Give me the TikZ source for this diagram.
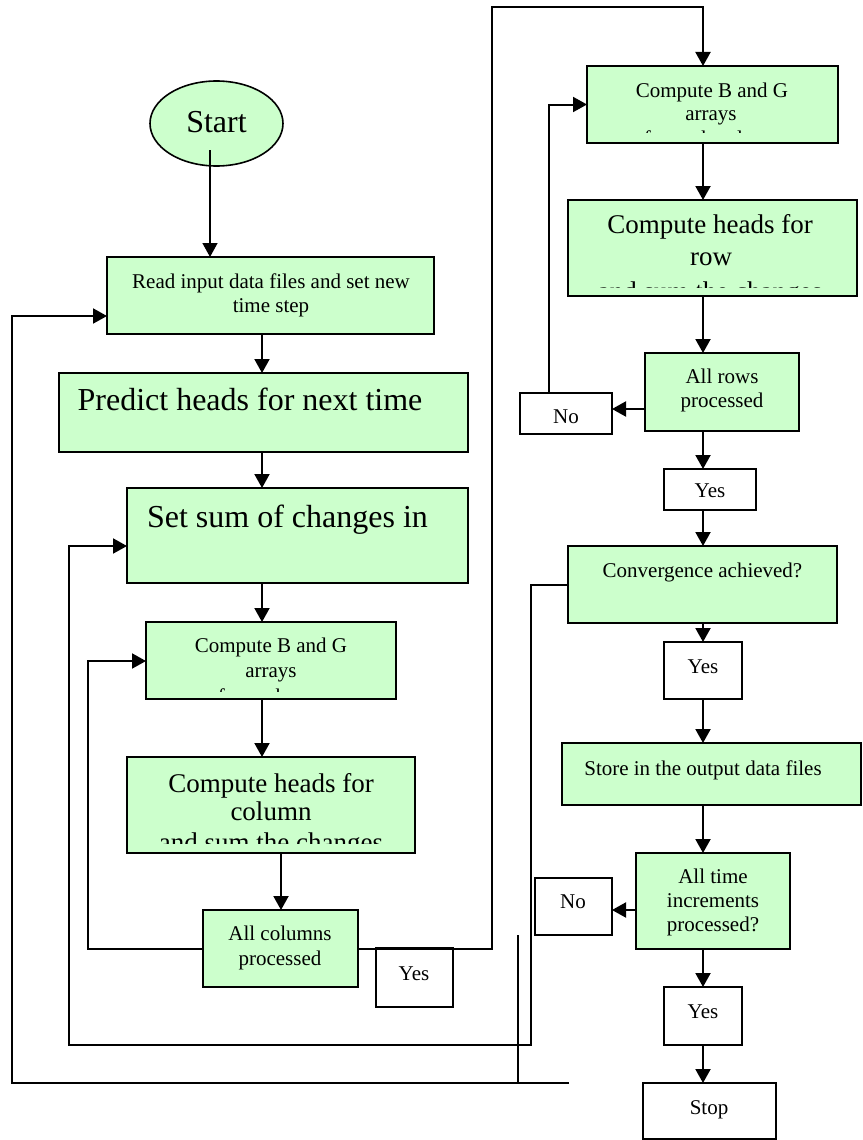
\documentclass[tikz,border=0pt]{standalone}
\usepackage{fontspec}
\setmainfont{Liberation Serif}
\usetikzlibrary{arrows.meta,shapes.geometric}
\definecolor{lg}{HTML}{CCFFCC}
\tikzset{
 box/.style={draw, line width=2.1pt, fill=lg, rectangle, inner sep=0pt, outer sep=0pt},
 wbox/.style={draw, line width=2.1pt, fill=white, rectangle, inner sep=0pt, outer sep=0pt},
 conn/.style={line width=2pt},
 arr/.style={line width=2pt, -{Triangle[length=14pt,width=15pt]}},
 big/.style={font=\fontsize{32}{36}\selectfont},
 mid/.style={font=\fontsize{27}{30}\selectfont},
 sml/.style={font=\fontsize{21}{24}\selectfont},
 lbl/.style={anchor=base, inner sep=0pt, outer sep=0pt},
}
\newcommand\bx[6]{\node[#6, minimum width={(#4-#2)*1pt}, minimum height={(#5-#3)*1pt}] (#1) at ({(#2+#4)/2},{(#3+#5)/2}) {};}
\newcommand\tx[5]{\node[lbl,#2] (#1) at (#3,#4) {#5};}
\begin{document}
\begin{tikzpicture}[x=1pt,y=-1pt]
\useasboundingbox (0,0) rectangle (862,1140);
\fill[white] (0,0) rectangle (862,1140);

% start
\node[ellipse, draw, line width=1.6pt, fill=lg, minimum width=133pt, minimum height=85pt, inner sep=0pt] (start) at (216.5,123.5) {};
\tx{tstart}{big}{216.5}{132}{Start}

% boxes
\bx{read}{107}{257}{434}{334}{box}
\bx{predict}{59}{373}{468}{452}{box}
\bx{setsum}{127}{488}{468}{583}{box}
\bx{bgc}{146}{622}{396}{699}{box}
\bx{chc}{127}{757}{415}{853}{box}
\bx{acol}{203}{910}{358}{987}{box}
\bx{yesa}{376}{948}{453}{1007}{wbox}
\bx{bgr}{587}{66}{838}{143}{box}
\bx{chr}{568}{200}{857}{296}{box}
\bx{arow}{645}{353}{799}{431}{box}
\bx{noa}{520}{393}{612}{434}{wbox}
\bx{yesb}{664}{469}{756}{510}{wbox}
\bx{conv}{568}{546}{837}{623}{box}
\bx{yesc}{664}{642}{742}{699}{wbox}
\bx{store}{562}{743}{861}{805}{box}
\bx{atp}{636}{853}{790}{949}{box}
\bx{nob}{535}{878}{612}{935}{wbox}
\bx{yesd}{664}{987}{742}{1045}{wbox}
\bx{stop}{643}{1083}{776}{1139}{wbox}

% texts
\tx{tr1}{sml}{271}{288}{Read input data files and set new}
\tx{tr2}{sml}{271}{312}{time step}
\tx{tp}{big}{250}{410}{Predict heads for next time}
\tx{ts}{big}{287.5}{527}{Set sum of changes in}
\begin{scope}
\clip (147,623) rectangle (395,691);
\tx{tbc1}{sml}{271}{652}{Compute B and G}
\tx{tbc2}{sml}{271}{677}{arrays}
\tx{tbc3}{sml}{271}{703}{for each row}
\end{scope}
\begin{scope}
\clip (128,758) rectangle (414,843);
\tx{thc1}{mid}{271}{792}{Compute heads for}
\tx{thc2}{mid}{271}{820}{column}
\tx{thc3}{mid}{271}{851}{and sum the changes}
\end{scope}
\tx{tac1}{sml}{280}{940}{All columns}
\tx{tac2}{sml}{280}{965}{processed}
\tx{tya}{sml}{414}{980}{Yes}
\begin{scope}
\clip (588,67) rectangle (837,132);
\tx{tbr1}{sml}{712}{97}{Compute B and G}
\tx{tbr2}{sml}{711}{120}{arrays}
\tx{tbr3}{sml}{712}{145}{for each column}
\end{scope}
\begin{scope}
\clip (569,201) rectangle (856,287);
\tx{thr1}{mid}{710}{233}{Compute heads for}
\tx{thr2}{mid}{711}{265}{row}
\tx{thr3}{mid}{710}{300}{and sum the changes}
\end{scope}
\tx{tar1}{sml}{722}{383}{All rows}
\tx{tar2}{sml}{722}{407}{processed}
\tx{tna}{sml}{566}{423}{No}
\tx{tyb}{sml}{710}{497}{Yes}
\tx{tcv}{sml}{702.5}{577}{Convergence achieved?}
\tx{tyc}{sml}{703}{673}{Yes}
\tx{tst}{sml}{703}{775}{Store in the output data files}
\tx{tat1}{sml}{713}{883}{All time}
\tx{tat2}{sml}{713}{907}{increments}
\tx{tat3}{sml}{713}{931}{processed?}
\tx{tnb}{sml}{573}{908}{No}
\tx{tyd}{sml}{703}{1018}{Yes}
\tx{tsp}{sml}{709}{1114}{Stop}

% column coordinates
\coordinate (cL) at (262,0);
\coordinate (cLc) at (281,0);
\coordinate (cR) at (703,0);
\coordinate (s0) at (210,150);

% straight connectors
\draw[arr, line width=1.5pt] (s0) -- (s0 |- read.north);
\draw[arr] (read.south -| cL) -- (predict.north -| cL);
\draw[arr] (predict.south -| cL) -- (setsum.north -| cL);
\draw[arr] (setsum.south -| cL) -- (bgc.north -| cL);
\draw[arr] (bgc.south -| cL) -- (chc.north -| cL);
\draw[arr] (chc.south -| cLc) -- (acol.north -| cLc);
\draw[arr] (bgr.south -| cR) -- (chr.north -| cR);
\draw[arr] (chr.south -| cR) -- (arow.north -| cR);
\draw[arr] (arow.south -| cR) -- (yesb.north -| cR);
\draw[arr] (yesb.south -| cR) -- (conv.north -| cR);
\draw[arr] (conv.south -| cR) -- (yesc.north -| cR);
\draw[arr] (yesc.south -| cR) -- (store.north -| cR);
\draw[arr] (store.south -| cR) -- (atp.north -| cR);
\draw[arr] (atp.south -| cR) -- (yesd.north -| cR);
\draw[arr] (yesd.south -| cR) -- (stop.north -| cR);

% side arrows to No boxes
\coordinate (ya) at (0,409);
\coordinate (yb) at (0,910);
\draw[arr] (arow.west |- ya) -- (noa.east |- ya);
\draw[arr] (atp.west |- yb) -- (nob.east |- yb);

% loops
\coordinate (k1) at (88,661);
\draw[arr] (acol.west) -| (k1) -- (bgc.west |- k1);
\coordinate (k2) at (492,7);
\draw[arr] (acol.east) -| (k2) -| (bgr.north -| cR);
\coordinate (k3) at (549,104);
\draw[arr] (noa.north -| k3) |- (bgr.west);
\coordinate (k4) at (531,1045);
\coordinate (k5) at (69,546);
\draw[arr] (conv.west) -| (k4) -| (k5) -- (setsum.west |- k5);
\coordinate (k6) at (518,935);
\coordinate (k7) at (569,1083);
\coordinate (k8) at (12,316);
\draw[conn] (k6) -- (k6 |- k7);
\draw[arr] (k7) -| (k8) -- (read.west |- k8);
\end{tikzpicture}
\end{document}
